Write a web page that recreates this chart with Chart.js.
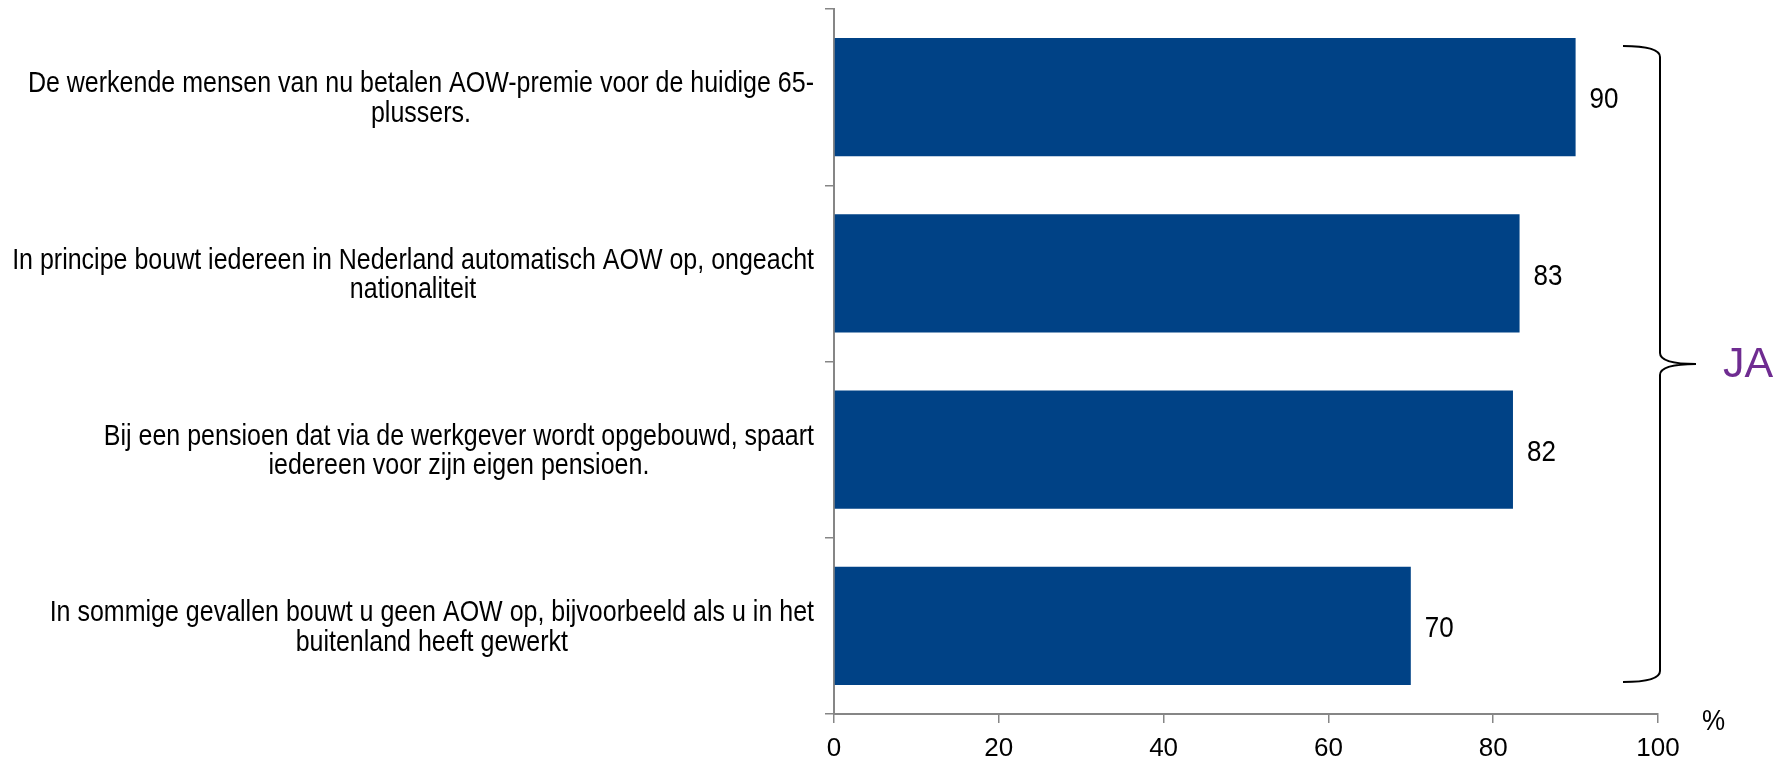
<!DOCTYPE html>
<html>
<head>
<meta charset="utf-8">
<script src="https://cdn.jsdelivr.net/npm/chart.js@4"></script>
<style>
  html, body { margin: 0; padding: 0; background: #fff; }
  #wrap { width: 1783px; height: 757px; }
</style>
</head>
<body>
<div id="wrap"><canvas id="aowChart"></canvas></div>
<script>
// DATA
var categories = [
  ["De werkende mensen van nu betalen AOW-premie voor de huidige 65-", "plussers."],
  ["In principe bouwt iedereen in Nederland automatisch AOW op, ongeacht", "nationaliteit"],
  ["Bij een pensioen dat via de werkgever wordt opgebouwd, spaart", "iedereen voor zijn eigen pensioen."],
  ["In sommige gevallen bouwt u geen AOW op, bijvoorbeeld als u in het", "buitenland heeft gewerkt"]
];
var jaValues = [90, 83.2, 82.4, 70];
var xTicks = [0, 20, 40, 60, 80, 100];
var braceText = "JA";
var unitText = "%";

var FONT = "'Liberation Sans', Arial, sans-serif";
var GREY = "#868686";
var STRETCH = 1.15; // the source text is a bit taller than Arial

function tallText(ctx, txt, x, y) {
  ctx.save();
  ctx.translate(x, y);
  ctx.scale(1, STRETCH);
  ctx.fillText(txt, 0, 0);
  ctx.restore();
}

// labels left of the axis: block right aligned, lines centred
var catLabels = {
  id: "catLabels",
  afterDraw(chart) {
    var ctx = chart.ctx, y = chart.scales.y;
    ctx.save();
    ctx.font = "25px " + FONT;
    ctx.fillStyle = "#000";
    ctx.textAlign = "center";
    ctx.textBaseline = "middle";
    var right = chart.chartArea.left - 20;
    var lh = 29.5;
    categories.forEach((lines, i) => {
      var w = Math.max(...lines.map(l => ctx.measureText(l).width));
      var cy = y.getPixelForValue(i) + 2;
      var y0 = cy - (lines.length - 1) * lh / 2;
      lines.forEach((l, k) => tallText(ctx, l, right - w / 2, y0 + k * lh));
    });
    ctx.restore();
  }
};

// value labels, brace and extra texts
var extras = {
  id: "extras",
  afterDatasetsDraw(chart) {
    var ctx = chart.ctx, area = chart.chartArea;
    var bars = chart.getDatasetMeta(0).data;
    ctx.save();
    ctx.font = "26px " + FONT;
    ctx.fillStyle = "#000";
    ctx.textAlign = "left";
    ctx.textBaseline = "middle";
    bars.forEach((b, i) => tallText(ctx, Math.round(jaValues[i]), b.x + 14, b.y + 3));

    // brace
    var first = bars[0], last = bars[bars.length - 1];
    var top = first.y - first.height / 2 + 8;
    var bot = last.y + last.height / 2 - 3;
    var mid = (top + bot) / 2;
    var xt = area.right - 35, xv = area.right + 2, xp = area.right + 38, r = 11;
    ctx.strokeStyle = "#000";
    ctx.lineWidth = 2;
    ctx.beginPath();
    ctx.moveTo(xt, top);
    ctx.quadraticCurveTo(xv, top, xv, top + r);
    ctx.lineTo(xv, mid - r);
    ctx.quadraticCurveTo(xv, mid, xp, mid);
    ctx.quadraticCurveTo(xv, mid, xv, mid + r);
    ctx.lineTo(xv, bot - r);
    ctx.quadraticCurveTo(xv, bot, xt, bot);
    ctx.stroke();

    ctx.fillStyle = "#6F2C91";
    ctx.font = "43px " + FONT;
    ctx.fillText(braceText, area.right + 65, mid + 1);

    ctx.fillStyle = "#000";
    ctx.font = "26px " + FONT;
    tallText(ctx, unitText, area.right + 44, area.bottom + 8);
    ctx.restore();
  }
};

const aowChart = new Chart("aowChart", {
  type: "bar",
  data: {
    labels: categories.map(c => c.join(" ")),
    datasets: [{
      label: "JA",
      data: jaValues,
      backgroundColor: "#004286",
      borderWidth: 0,
      categoryPercentage: 1,
      barPercentage: 0.67
    }]
  },
  options: {
    indexAxis: "y",
    responsive: true,
    maintainAspectRatio: false,
    animation: false,
    layout: { padding: { top: 9, right: 125, bottom: 0, left: 0 } },
    plugins: {
      legend: { display: false },
      tooltip: { enabled: false }
    },
    scales: {
      x: {
        min: 0,
        max: 100,
        afterBuildTicks: (s) => { s.ticks = xTicks.map(v => ({ value: v })); },
        afterFit: (s) => { s.height = 43; },
        border: { color: GREY, width: 2 },
        grid: { drawOnChartArea: false, color: GREY, lineWidth: 1.5, tickLength: 9 },
        ticks: { color: "#000", font: { family: FONT, size: 26 }, padding: 10 }
      },
      y: {
        afterFit: (s) => { s.width = 834; },
        border: { color: GREY, width: 2 },
        grid: { drawOnChartArea: false, color: GREY, lineWidth: 1.5, tickLength: 9, offset: true },
        ticks: { display: false }
      }
    }
  },
  plugins: [catLabels, extras]
});
</script>
</body>
</html>
